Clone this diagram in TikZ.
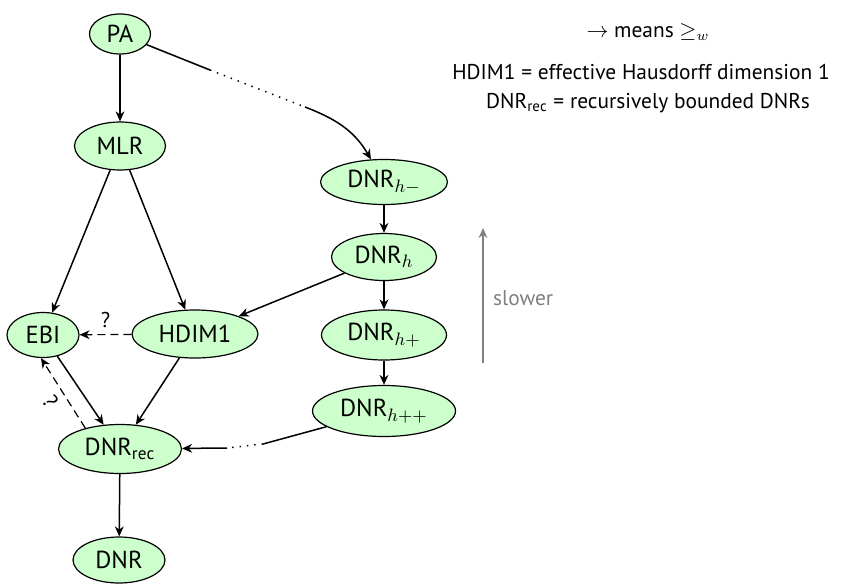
\documentclass[tikz,border=0pt]{standalone}
\usepackage{fontspec}
\setmainfont{PT Sans}
\usetikzlibrary{arrows.meta,shapes.geometric}
\begin{document}
\begin{tikzpicture}[x=0.5pt,y=0.5pt,
  every node/.style={font=\fontsize{10.7}{12}\selectfont},
  nd/.style={ellipse, draw, fill=green!20, inner sep=0pt, line width=0.6pt,
    font=\fontsize{12.3}{14}\selectfont},
  arr/.style={line width=0.75pt,-{Stealth[length=5pt,width=4.4pt,inset=1.6pt]}},
  ln/.style={line width=0.75pt},
  dotl/.style={line width=0.75pt, dash pattern=on 0.7pt off 3pt},
  dsh/.style={line width=0.6pt, dash pattern=on 4pt off 2.5pt,-{Stealth[length=5pt,width=4.4pt,inset=1.6pt]}},
]
\useasboundingbox (0,0) rectangle (855,-583);
\node[nd, minimum width=30.5pt, minimum height=20pt] (PA) at (120,-34) {PA};
\node[nd, minimum width=45.5pt, minimum height=24pt] (MLR) at (120,-146) {MLR};
\node[nd, minimum width=36pt, minimum height=22.5pt] (EBI) at (43,-335) {EBI};
\node[nd, minimum width=63pt, minimum height=24pt] (HDIM) at (195,-334) {HDIM1};
\node[nd, minimum width=61.5pt, minimum height=24.5pt] (rec) at (120,-449) {DNR$_{\mathrm{rec}}$};
\node[nd, minimum width=46pt, minimum height=23pt] (DNR) at (119,-560) {DNR};
\node[nd, minimum width=63.5pt, minimum height=22.5pt] (hm) at (384,-182) {DNR$_{h-}$};
\node[nd, minimum width=52.5pt, minimum height=23.5pt] (h) at (384,-257) {DNR$_{h}$};
\node[nd, minimum width=62.5pt, minimum height=25pt] (hp) at (384,-335) {DNR$_{h+}$};
\node[nd, minimum width=71.5pt, minimum height=25.5pt] (hpp) at (384,-411) {DNR$_{h++}$};

\node (l1) at (648,-32) {$\rightarrow$ means $\geq_w$};
\node (l2) at (641,-72) {HDIM1 = effective Hausdorff dimension 1};
\node (l3) at (648,-103) {DNR$_{\mathrm{rec}}$ = recursively bounded DNRs};

\coordinate (c1) at (210,-70);
\coordinate (c2) at (305,-107);
\coordinate (c3) at (263,-444);
\coordinate (c4) at (227,-448);
\coordinate (s1) at (483,-363);
\coordinate (s2) at (483,-228);

\draw[arr] (PA) -- (MLR);
\draw[arr] (MLR) -- (EBI);
\draw[arr] (MLR) -- (HDIM);
\draw[arr] (EBI) -- (rec);
\draw[arr] (HDIM) -- (rec);
\draw[arr] (rec) -- (DNR);
\draw[arr] (hm) -- (h);
\draw[arr] (h) -- (hp);
\draw[arr] (hp) -- (hpp);
\draw[arr] (h) -- (HDIM);
\draw[dsh] (HDIM) -- node[above, pos=0.5] (q1) {?} (EBI);
\draw[dsh] (rec.149) -- node[sloped, below, pos=0.5] (q2) {?} (EBI.265);

\draw[ln] (PA) -- (c1);
\draw[dotl] (c1) -- (c2);
\draw[arr] (c2) to[out=-21, in=120] (hm);

\draw[ln] (hpp) -- (c3);
\draw[dotl] (c3) -- (c4);
\draw[arr] (c4) -- (rec);

\draw[line width=0.75pt, gray, -{Stealth[length=5pt,width=4.4pt,inset=1.6pt]}] (s1) -- (s2);
\node[text=gray, right] (slow) at (486,-298) {slower};
\end{tikzpicture}
\end{document}
